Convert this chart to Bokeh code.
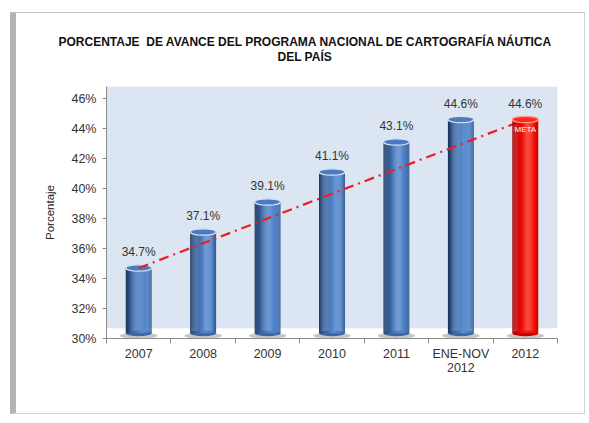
from bokeh.plotting import figure
from bokeh.models import (Range1d, FixedTicker, BoxAnnotation, Label, LabelSet, Title,
                          ColumnDataSource, PrintfTickFormatter)
from bokeh.core.properties import value
from bokeh.embed import file_html
from bokeh.resources import INLINE

# ---- data ----
categories = ["2007", "2008", "2009", "2010", "2011", "ENE-NOV\n2012", "2012"]
values = [34.7, 37.1, 39.1, 41.1, 43.1, 44.6, 44.6]
value_labels = ["34.7%", "37.1%", "39.1%", "41.1%", "43.1%", "44.6%", "44.6%"]
is_target = [False, False, False, False, False, False, True]
y_ticks = [30, 32, 34, 36, 38, 40, 42, 44, 46]
title_line1 = "PORCENTAJE\u00a0 DE AVANCE DEL PROGRAMA NACIONAL DE CARTOGRAFÍA NÁUTICA"
title_line2 = "DEL PAÍS"

FONT = "Liberation Sans"
xs = list(range(len(categories)))

p = figure(width=568, height=400, output_backend="svg", toolbar_location=None, title=None,
           x_range=Range1d(-0.5, len(categories) - 0.5), y_range=Range1d(30, 46.8),
           frame_width=451, frame_height=252,
           min_border_left=90, min_border_right=27, min_border_top=73, min_border_bottom=75)
p.styles = {"margin-left": "10px", "margin-top": "12px",
            "border-left": "6px solid #b4b4b4", "border-top": "1px solid #c4c4c4",
            "border-right": "1px solid #d4d4d4", "border-bottom": "1px solid #d4d4d4"}
p.background_fill_color = "white"
p.border_fill_color = "white"
p.outline_line_color = None
p.xgrid.grid_line_color = None
p.ygrid.grid_line_color = None

# plot-area blue background above the floor
p.add_layout(BoxAnnotation(bottom=30.69, fill_color="#dce6f2", fill_alpha=1.0,
                           line_color=None, level="underlay"))

# axes
p.yaxis.ticker = FixedTicker(ticks=y_ticks)
p.yaxis.formatter = PrintfTickFormatter(format="%d%%")
p.yaxis.major_label_text_font = FONT
p.yaxis.major_label_text_font_size = "12.5px"
p.yaxis.major_label_text_color = "#333333"
p.yaxis.axis_line_color = "#8c8c8c"
p.yaxis.major_tick_line_color = "#8c8c8c"
p.yaxis.major_tick_out = 4
p.yaxis.major_tick_in = 0
p.yaxis.minor_tick_line_color = None
p.yaxis.major_label_standoff = 6
p.yaxis.axis_label = "Porcentaje"
p.yaxis.axis_label_text_font = FONT
p.yaxis.axis_label_text_font_size = "11.5px"
p.yaxis.axis_label_text_font_style = "normal"
p.yaxis.axis_label_text_color = "#222222"
p.yaxis.axis_label_standoff = 12

p.xaxis.ticker = FixedTicker(ticks=xs, minor_ticks=[x - 0.5 for x in xs] + [xs[-1] + 0.5])
p.xaxis.major_label_overrides = {i: c for i, c in enumerate(categories)}
p.xaxis.major_label_text_font = FONT
p.xaxis.major_label_text_font_size = "12.5px"
p.xaxis.major_label_text_color = "#333333"
p.xaxis.major_label_text_line_height = 1.0
p.xaxis.axis_line_color = "#8c8c8c"
p.xaxis.major_tick_line_color = None
p.xaxis.major_tick_out = 0
p.xaxis.major_tick_in = 0
p.xaxis.minor_tick_line_color = "#8c8c8c"
p.xaxis.minor_tick_out = 5
p.xaxis.minor_tick_in = 0
p.xaxis.major_label_standoff = 3

# ---- cylinder bars ----
BAR_W = 0.40
BASE = 30.35
N = 24

def hex2rgb(h):
    h = h.lstrip("#")
    return tuple(int(h[i:i + 2], 16) for i in (0, 2, 4))

def ramp(stops, t):
    for (t0, c0), (t1, c1) in zip(stops, stops[1:]):
        if t <= t1:
            f = (t - t0) / (t1 - t0) if t1 > t0 else 0
            a, b = hex2rgb(c0), hex2rgb(c1)
            return "#%02x%02x%02x" % tuple(int(round(a[i] + (b[i] - a[i]) * f)) for i in range(3))
    return stops[-1][1]

BLUE = [(0, "#1c3358"), (0.22, "#36609c"), (0.6, "#5d8fd3"), (0.85, "#4a7cc0"), (1, "#2f5a95")]
RED = [(0, "#9a0000"), (0.22, "#dc0000"), (0.6, "#ff2a1a"), (0.85, "#f21000"), (1, "#c00000")]

def draw_bars(idx):
    shadow = dict(x=[xs[i] for i in idx], y=[30.18] * len(idx))
    p.ellipse(x="x", y="y", width=BAR_W * 1.45, height=0.42, source=ColumnDataSource(shadow),
              fill_color="#9a9a9a", fill_alpha=0.55, line_color=None)
    sx, st, sc = [], [], []
    for i in idx:
        stops = RED if is_target[i] else BLUE
        for k in range(N):
            t = (k + 0.5) / N
            sx.append(xs[i] - BAR_W / 2 + t * BAR_W)
            st.append(values[i])
            sc.append(ramp(stops, t))
    bot = dict(x=[xs[i] for i in idx], y=[BASE] * len(idx),
               c=["#c40000" if is_target[i] else "#3b66a3" for i in idx])
    p.ellipse(x="x", y="y", width=BAR_W, height=0.4, source=ColumnDataSource(bot),
              fill_color="c", line_color=None)
    p.vbar(x=sx, top=st, bottom=BASE, width=BAR_W / N * 1.15, fill_color=sc, line_color=None)
    cap = dict(x=[xs[i] for i in idx], y=[values[i] for i in idx],
               c=["#ff2a18" if is_target[i] else "#4a7bbf" for i in idx],
               lc=["#ff9a90" if is_target[i] else "#d5e2f5" for i in idx])
    p.ellipse(x="x", y="y", width=BAR_W, height=0.42, source=ColumnDataSource(cap),
              fill_color="c", line_color="lc", line_width=1.2)

actual = [i for i in xs if not is_target[i]]
target = [i for i in xs if is_target[i]]
draw_bars(actual)

# trend line (over the actual bars, under the target bar)
p.line(x=[xs[0], xs[-1]], y=[values[0], values[-1]], line_color="#ee1c25",
       line_width=2.2, line_dash="10 5 2 5")

draw_bars(target)

# value labels
lbl_src = ColumnDataSource(dict(x=xs, y=values, t=value_labels))
p.add_layout(LabelSet(x="x", y="y", text="t", source=lbl_src, y_offset=9,
                      text_align="center", text_baseline="bottom",
                      text_font=value(FONT), text_font_size=value("12px"),
                      text_color=value("#333333")))
for i in target:
    p.add_layout(Label(x=xs[i], y=values[i], y_offset=-10, text="META",
                       text_align="center", text_baseline="middle",
                       text_font=FONT, text_font_size="8px", text_color="white"))

# title (two lines)
t2 = Title(text=title_line2, align="left", offset=171, text_font=FONT, text_font_size="12px",
           text_font_style="bold", text_color="#111111", standoff=42, vertical_align="top")
t1 = Title(text=title_line1, align="left", offset=-48, text_font=FONT, text_font_size="12px",
           text_font_style="bold", text_color="#111111", standoff=-40, vertical_align="bottom")
p.add_layout(t2, "above")
p.add_layout(t1, "above")

open("out.html", "w").write(file_html(p, INLINE))
